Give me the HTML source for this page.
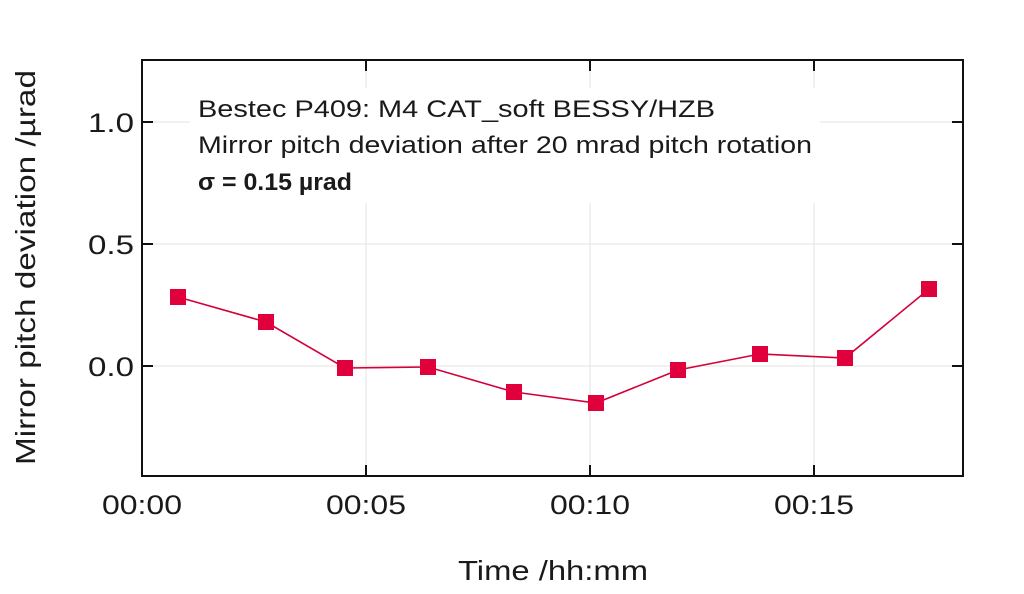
<!DOCTYPE html>
<html><head><style>
body{margin:0;background:#fff}
svg text{font-family:"Liberation Sans",sans-serif;fill:#1a1a1a}
</style></head><body>
<svg width="1024" height="589" viewBox="0 0 1024 589" xmlns="http://www.w3.org/2000/svg">
<rect width="1024" height="589" fill="#fff"/>
<g stroke="#e3e3e3" stroke-width="1">
<line x1="142" y1="122" x2="963" y2="122"/>
<line x1="142" y1="244" x2="963" y2="244"/>
<line x1="142" y1="366" x2="963" y2="366"/>
<line x1="366" y1="60" x2="366" y2="476"/>
<line x1="590" y1="60" x2="590" y2="476"/>
<line x1="814" y1="60" x2="814" y2="476"/>
</g>
<rect x="190" y="88" width="630" height="115" fill="#fff"/>
<rect x="142" y="60" width="821" height="416" fill="none" stroke="#111" stroke-width="2"/>
<g stroke="#111" stroke-width="2">
<line x1="142" y1="122" x2="153" y2="122"/><line x1="142" y1="244" x2="153" y2="244"/><line x1="142" y1="366" x2="153" y2="366"/>
<line x1="963" y1="122" x2="952" y2="122"/><line x1="963" y1="244" x2="952" y2="244"/><line x1="963" y1="366" x2="952" y2="366"/>
<line x1="366" y1="476" x2="366" y2="465"/><line x1="590" y1="476" x2="590" y2="465"/><line x1="814" y1="476" x2="814" y2="465"/>
<line x1="366" y1="60" x2="366" y2="71"/><line x1="590" y1="60" x2="590" y2="71"/><line x1="814" y1="60" x2="814" y2="71"/>
</g>
<polyline fill="none" stroke="#d4003a" stroke-width="1.6" points="178,297 266,322 345,368 428,367 514,392 596,403 678,370 760,354 845,358 929,289"/>
<g fill="#e0003c">
<rect x="170" y="289" width="16" height="16"/><rect x="258" y="314" width="16" height="16"/><rect x="337" y="360" width="16" height="16"/><rect x="420" y="359" width="16" height="16"/><rect x="506" y="384" width="16" height="16"/><rect x="588" y="395" width="16" height="16"/><rect x="670" y="362" width="16" height="16"/><rect x="752" y="346" width="16" height="16"/><rect x="837" y="350" width="16" height="16"/><rect x="921" y="281" width="16" height="16"/>
</g>
<g font-size="27">
<text x="88" y="132" textLength="46" lengthAdjust="spacingAndGlyphs">1.0</text>
<text x="88" y="254" textLength="46" lengthAdjust="spacingAndGlyphs">0.5</text>
<text x="88" y="376" textLength="46" lengthAdjust="spacingAndGlyphs">0.0</text>
<text x="102" y="514" textLength="80" lengthAdjust="spacingAndGlyphs">00:00</text>
<text x="326" y="514" textLength="80" lengthAdjust="spacingAndGlyphs">00:05</text>
<text x="550" y="514" textLength="80" lengthAdjust="spacingAndGlyphs">00:10</text>
<text x="774" y="514" textLength="80" lengthAdjust="spacingAndGlyphs">00:15</text>
<text x="458" y="580" font-size="28" textLength="190" lengthAdjust="spacingAndGlyphs">Time /hh:mm</text>
<text transform="translate(35,465) rotate(-90)" font-size="28" textLength="395" lengthAdjust="spacingAndGlyphs">Mirror pitch deviation /µrad</text>
</g>
<g font-size="24">
<text x="198" y="117" textLength="517" lengthAdjust="spacingAndGlyphs">Bestec P409: M4 CAT_soft BESSY/HZB</text>
<text x="198" y="153" textLength="614" lengthAdjust="spacingAndGlyphs">Mirror pitch deviation after 20 mrad pitch rotation</text>
<text x="198" y="190" font-weight="bold" textLength="154" lengthAdjust="spacingAndGlyphs">σ = 0.15 µrad</text>
</g>
</svg>
</body></html>
